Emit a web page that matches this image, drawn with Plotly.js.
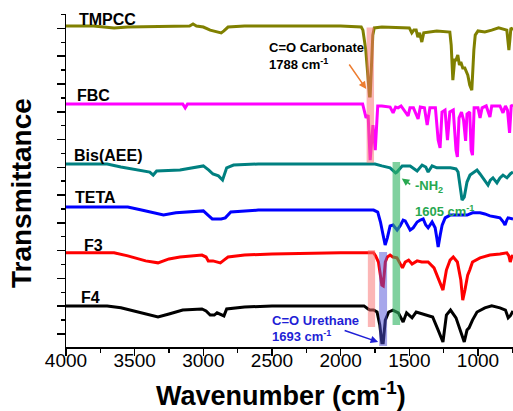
<!DOCTYPE html>
<html><head><meta charset="utf-8">
<script src="https://cdn.plot.ly/plotly-3.0.1.min.js"></script>
<style>html,body{margin:0;padding:0;background:#fff}#chart{width:513px;height:411px}</style>
</head><body><div id="chart"></div>
<script>
// ---- data: wavenumber (cm-1) and stacked transmittance (offset units) ----
const tmpccWn = [4000,3800,3650,3550,3100,3075,3050,3000,2950,2900,2870,2850,2820,2700,2000,1850,1838,1817,1800,1790,1785,1775,1766,1755,1700,1500,1482,1467,1450,1438,1425,1409,1395,1300,1205,1195,1183,1170,1160,1147,1135,1125,1111,1096,1074,1060,1045,1030,1020,1000,950,900,850,790,775,768,760,745];
const tmpccT  = [110.9,110.9,110.2,110.5,110.9,111.6,110.9,110.5,109.4,108.7,108.4,109.1,110.5,110.9,110.9,110.5,109.4,102.2,89.6,85.7,85.7,95.0,107.6,110.2,110.5,110.2,108.4,109.4,109.4,106.9,108.4,105.1,108.4,109.1,108.7,104.0,91.4,98.6,98.6,100.4,96.8,97.9,95.8,95.8,93.2,89.6,87.8,102.2,107.6,109.1,108.7,109.4,110.2,109.4,102.2,105.8,110.2,109.4];

const fbcWn = [4000,3300,3150,3132,3115,2000,1840,1815,1800,1785,1765,1748,1730,1700,1640,1618,1600,1582,1560,1509,1495,1470,1436,1420,1390,1370,1350,1310,1290,1276,1262,1240,1222,1205,1180,1160,1150,1138,1120,1105,1090,1080,1060,1050,1040,1028,1000,985,970,940,913,900,840,818,800,785,770,758,745];
const fbcT  = [82.8,82.8,82.8,81.4,82.8,82.8,82.8,77.8,78.8,62.6,75.2,66.2,82.1,82.1,81.7,79.6,81.7,81.4,82.1,78.5,81.4,81.4,77.4,81.7,81.4,75.2,81.4,81.4,69.8,67.0,79.9,80.6,69.8,79.9,80.6,66.2,63.7,77.8,79.9,77.0,69.5,79.2,79.9,66.2,64.4,81.4,81.4,77.8,81.4,82.1,78.1,82.1,82.1,79.6,82.1,80.6,72.4,82.1,82.4];

const bisWn = [4000,3700,3600,3480,3390,3365,3340,3170,3000,2960,2930,2890,2860,2830,2780,2600,2000,1750,1700,1640,1600,1590,1552,1494,1443,1407,1380,1363,1334,1300,1200,1160,1145,1125,1116,1100,1080,1058,1007,985,963,940,927,910,891,862,840,818,789,765,745];
const bisT  = [61.2,61.2,60.1,59.0,58.3,57.2,58.7,59.0,60.5,59.0,57.6,56.9,55.4,59.8,60.8,61.2,61.2,61.2,60.5,59.8,58.0,58.3,60.5,60.5,58.7,60.8,60.1,58.3,60.5,59.8,59.8,59.4,58.3,51.8,48.2,49.3,54.7,57.2,59.0,57.6,56.2,54.7,53.6,55.4,56.2,54.4,56.2,57.2,56.2,57.6,58.3];

const tetaWn = [4000,3550,3450,3290,3200,3000,2960,2935,2870,2840,2800,2600,2000,1760,1730,1710,1691,1676,1660,1640,1618,1589,1567,1545,1530,1494,1472,1443,1420,1399,1380,1363,1334,1312,1300,1290,1275,1261,1239,1203,1100,1079,1040,985,950,913,870,840,815,803,790,781,745];
const tetaT  = [45.7,45.7,44.6,42.8,43.6,44.3,42.5,41.4,41.4,41.8,43.9,44.6,44.6,44.6,43.9,40.3,35.6,32.0,34.6,38.9,39.2,37.4,38.9,41.0,40.7,37.4,38.2,40.3,41.0,41.4,39.2,38.2,40.3,38.2,34.6,31.3,35.6,39.2,41.8,42.8,42.8,42.8,43.6,43.6,43.2,42.5,42.1,41.8,40.3,39.2,41.0,41.8,41.4];

const f3Wn = [4000,3650,3550,3420,3330,3250,3170,3010,2980,2964,2930,2876,2850,2820,2700,2500,2000,1760,1745,1725,1700,1690,1675,1660,1640,1620,1590,1550,1530,1505,1480,1443,1410,1363,1320,1290,1255,1230,1203,1180,1150,1125,1111,1095,1075,1060,1040,985,913,840,790,775,765,755,745];
const f3T  = [29.2,29.2,28.1,26.3,25.6,27.0,27.7,28.4,27.7,26.3,26.3,25.6,26.6,27.7,28.4,28.8,29.2,29.2,28.1,25.9,17.6,17.3,25.9,27.7,28.4,27.7,27.4,23.8,25.9,26.6,25.2,26.3,25.9,25.9,23.8,20.2,15.8,23.0,26.6,27.7,25.9,19.4,12.2,15.8,21.2,23.0,25.9,27.4,28.4,28.8,29.2,28.1,25.9,27.7,28.4];

const f4Wn = [4000,3700,3600,3450,3330,3250,3150,3010,2980,2950,2920,2900,2870,2850,2830,2700,2500,2000,1830,1800,1786,1760,1735,1715,1700,1690,1675,1650,1620,1580,1545,1520,1480,1450,1380,1330,1290,1255,1230,1200,1160,1120,1100,1080,1065,1040,1007,950,900,840,800,780,765,745];
const f4T  = [10.1,10.1,9.4,7.6,6.1,7.2,8.6,9.0,8.3,6.8,6.8,7.6,6.8,6.5,9.0,9.7,10.1,10.1,10.1,9.0,8.6,8.6,7.9,3.2,-3.2,-3.2,5.0,7.9,8.6,7.6,4.3,7.6,5.8,7.9,6.8,6.1,1.4,-2.9,6.8,8.6,5.8,-0.4,-2.9,1.4,2.2,5.0,7.9,9.4,10.1,9.4,8.6,5.8,6.5,8.3];

const seriesNames = ['TMPCC','FBC','Bis(AEE)','TETA','F3','F4'];
const seriesWn = [tmpccWn, fbcWn, bisWn, tetaWn, f3Wn, f4Wn];
const seriesT  = [tmpccT, fbcT, bisT, tetaT, f3T, f4T];

// highlighted bands: [wn high, wn low, T low, T high]
const bandWnHi = [1811, 1802, 1720, 1622];
const bandWnLo = [1757, 1749, 1662, 1567];
const bandTLo  = [61.6, 2.5, -4.3, 3.2];
const bandTHi  = [110.3, 30.2, 29.5, 61.9];

const xTickVals = [4000,3500,3000,2500,2000,1500,1000];
const xTickText = ['4000','3500','3000','2500','2000','1500','1000'];

// ---- styling ----
const colors = ['#808000','#FF00FF','#008080','#0000FF','#FF0000','#000000'];
const labelWn = [3918,3932,3954,3947,3881,3903];
const labelT  = [113.4,85.7,64.4,49.3,32.0,13.3];
const bandColors = ['rgba(250,110,110,0.5)','rgba(250,110,110,0.5)','rgba(80,80,215,0.5)','rgba(50,180,100,0.62)'];
const FONT = 'Liberation Sans, Arial, Helvetica, sans-serif';

const traces = seriesNames.map((n,i)=>({
  type:'scatter', mode:'lines', name:n,
  x: seriesWn[i], y: seriesT[i],
  line:{color:colors[i], width:3}, hoverinfo:'skip'
}));

const shapes = bandWnHi.map((v,i)=>({
  type:'rect', xref:'x', yref:'y', layer:'above',
  x0:v, x1:bandWnLo[i], y0:bandTLo[i], y1:bandTHi[i],
  fillcolor:bandColors[i], line:{width:0}
}));

const annotations = seriesNames.map((n,i)=>({
  x:labelWn[i], y:labelT[i], xref:'x', yref:'y', xanchor:'left', yanchor:'middle',
  text:'<b>'+n+'</b>', showarrow:false, font:{family:FONT,size:16,color:'#000'}
}));

const noteFont = (c)=>({family:FONT,size:13,color:c});
annotations.push(
  {x:2535,y:103.0,xref:'x',yref:'y',xanchor:'left',yanchor:'middle',showarrow:false,text:'<b>C=O Carbonate</b>',font:noteFont('#000')},
  {x:2535,y:97.2,xref:'x',yref:'y',xanchor:'left',yanchor:'middle',showarrow:false,text:'<b>1788 cm<sup>-1</sup></b>',font:noteFont('#000')},
  {x:1470,y:53.0,xref:'x',yref:'y',xanchor:'left',yanchor:'middle',showarrow:false,text:'<b>-NH<sub>2</sub></b>',font:noteFont('#28a850')},
  {x:1470,y:44.2,xref:'x',yref:'y',xanchor:'left',yanchor:'middle',showarrow:false,text:'<b>1605 cm<sup>-1</sup></b>',font:noteFont('#28a850')},
  {x:2513,y:5.0,xref:'x',yref:'y',xanchor:'left',yanchor:'middle',showarrow:false,text:'<b>C=O Urethane</b>',font:noteFont('#1f1fd6')},
  {x:2513,y:-0.8,xref:'x',yref:'y',xanchor:'left',yanchor:'middle',showarrow:false,text:'<b>1693 cm<sup>-1</sup></b>',font:noteFont('#1f1fd6')},
  {x:1814,y:88.2,xref:'x',yref:'y',text:'',showarrow:true,arrowhead:2,arrowsize:1,arrowwidth:1.5,arrowcolor:'#ED7D31',ax:-18,ay:-26},
  {x:1555,y:56.0,xref:'x',yref:'y',text:'',showarrow:true,arrowhead:2,arrowsize:1,arrowwidth:1.5,arrowcolor:'#28a850',ax:10,ay:7},
  {x:1727,y:-2.9,xref:'x',yref:'y',text:'',showarrow:true,arrowhead:2,arrowsize:1,arrowwidth:1.5,arrowcolor:'#1f1fd6',ax:-35,ay:-12},
  // axis titles
  {xref:'paper',yref:'paper',x:-0.101,y:0.462,xanchor:'center',yanchor:'middle',textangle:-90,showarrow:false,
   text:'<b>Transmittance</b>',font:{family:FONT,size:28,color:'#000'}},
  {xref:'paper',yref:'paper',x:0.481,y:-0.141,xanchor:'center',yanchor:'middle',showarrow:false,
   text:'<b>Wavenumber (cm<sup>-1</sup>)</b>',font:{family:FONT,size:27,color:'#000'}}
);

const layout = {
  width:513, height:411,
  margin:{l:66, r:0, t:14, b:64},
  paper_bgcolor:'#fff', plot_bgcolor:'#fff',
  showlegend:false,
  font:{family:FONT, color:'#000'},
  xaxis:{
    range:[4000,745], showgrid:false, zeroline:false,
    showline:true, linecolor:'#000', linewidth:1.5, mirror:false,
    ticks:'outside', ticklen:7, tickwidth:1.5, tickcolor:'#000',
    tickmode:'array', tickvals:xTickVals, ticktext:xTickText,
    tickfont:{family:FONT,size:19,color:'#000'},
    ticklabelstandoff:-11,
    minor:{dtick:250, tick0:0, ticks:'outside', ticklen:4, tickwidth:1.5, tickcolor:'#000', showgrid:false},
    automargin:false, fixedrange:true
  },
  yaxis:{
    range:[-4.7,115.2], showgrid:false, zeroline:false,
    showline:true, linecolor:'#000', linewidth:1.5,
    ticks:'outside', ticklen:8, tickwidth:1.5, tickcolor:'#000',
    dtick:10, tick0:0, showticklabels:false,
    minor:{dtick:5, tick0:0, ticks:'outside', ticklen:4, tickwidth:1.5, tickcolor:'#000', showgrid:false},
    automargin:false, fixedrange:true
  },
  shapes:shapes, annotations:annotations
};

Plotly.newPlot('chart', traces, layout, {staticPlot:true, displayModeBar:false});
</script></body></html>
